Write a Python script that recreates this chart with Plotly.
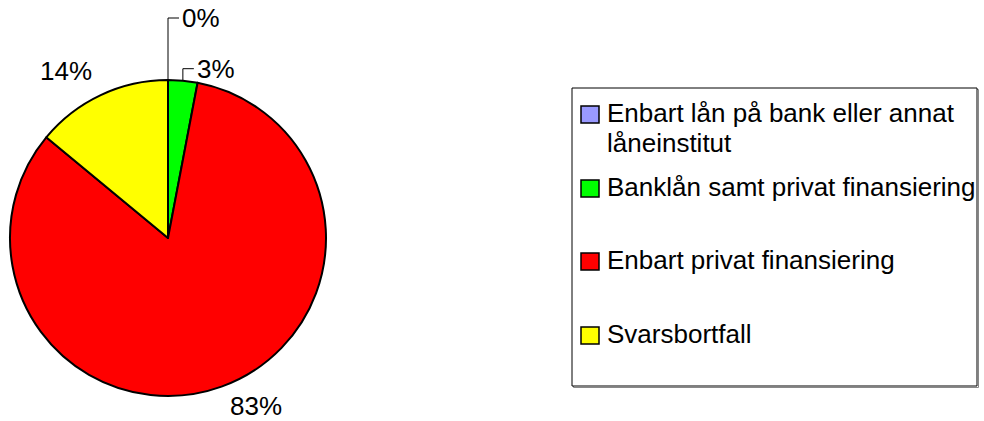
import math
import textwrap
import plotly.graph_objects as go

# ---- data ----
categories = [
    "Enbart lån på bank eller annat låneinstitut",
    "Banklån samt privat finansiering",
    "Enbart privat finansiering",
    "Svarsbortfall",
]
values = [0, 3, 83, 14]
value_labels = ["0%", "3%", "83%", "14%"]

# ---- style / layout ----
colors = ["#9999FF", "#00FF00", "#FF0000", "#FFFF00"]
W, H = 984, 421
CX, CY, R = 168, 238, 158           # pie centre / radius (px)
LABEL_GAP_ABOVE = 8
LABEL_GAP_BELOW = 2
FONT = "Liberation Sans, Arial, sans-serif"
FS = 26
LEADER_RISE = {0: 62, 1: 12}        # leader line rise for tiny slices (px)
LEGEND_BOX = (572, 88, 977, 386)
LEGEND_BASELINES = [122, 196, 269, 343]
LINE_GAP = 30
WRAP = 32
MARK_X0, MARK_X1, MARK_H = 581, 599, 17
TEXT_X = 605


def px(x):
    return x / W


def py(y):
    return 1 - y / H


fig = go.Figure()
fig.add_trace(go.Pie(
    labels=categories,
    values=values,
    sort=False,
    direction="clockwise",
    rotation=0,
    marker=dict(colors=colors, line=dict(color="black", width=2)),
    textinfo="none",
    hoverinfo="label+percent",
    showlegend=False,
    domain=dict(x=[px(CX - R), px(CX + R)], y=[py(CY + R), py(CY - R)]),
))

shapes = []
annotations = []

# ---- slice labels (positions derived from data angles) ----
total = sum(values)
cum = 0.0
for i, v in enumerate(values):
    mid = (cum + v / 2) / total * 2 * math.pi
    cum += v
    s, c = math.sin(mid), math.cos(mid)
    ex, ey = CX + R * s, CY - R * c
    if i in LEADER_RISE:
        top = ey - LEADER_RISE[i]
        shapes.append(dict(type="path", xref="paper", yref="paper",
                           path=f"M {px(ex)},{py(ey)} L {px(ex)},{py(top)} L {px(ex + 11)},{py(top)}",
                           line=dict(color="black", width=1)))
        annotations.append(dict(x=px(ex + 12), y=py(top), xref="paper", yref="paper",
                                text=value_labels[i], showarrow=False,
                                xanchor="left", yanchor="middle",
                                font=dict(family=FONT, size=FS, color="black")))
    else:
        gap = LABEL_GAP_ABOVE if c > 0 else LABEL_GAP_BELOW
        lx, ly = CX + (R + gap) * s, CY - (R + gap) * c
        annotations.append(dict(x=px(lx + (6 if s >= 0 else -3)), y=py(ly), xref="paper", yref="paper",
                                text=value_labels[i], showarrow=False,
                                xanchor="left" if s >= 0 else "right",
                                yanchor="top" if c < 0 else "bottom",
                                font=dict(family=FONT, size=FS, color="black")))

# ---- legend (drawn manually) ----
bx0, by0, bx1, by1 = LEGEND_BOX
shapes.append(dict(type="rect", xref="paper", yref="paper",
                   x0=px(bx0 + 1.5), y0=py(by1 + 1.5), x1=px(bx1 + 1.5), y1=py(by0 + 1.5),
                   line=dict(color="#888888", width=1), fillcolor="rgba(0,0,0,0)", layer="below"))
shapes.append(dict(type="rect", xref="paper", yref="paper",
                   x0=px(bx0), y0=py(by1), x1=px(bx1), y1=py(by0),
                   line=dict(color="black", width=1), fillcolor="white"))
for i, cat in enumerate(categories):
    base = LEGEND_BASELINES[i]
    shapes.append(dict(type="rect", xref="paper", yref="paper",
                       x0=px(MARK_X0), x1=px(MARK_X1), y0=py(base + 1), y1=py(base + 1 - MARK_H),
                       line=dict(color="black", width=1.5), fillcolor=colors[i]))
    for j, line in enumerate(textwrap.wrap(cat, WRAP)):
        annotations.append(dict(x=px(TEXT_X), y=py(base + j * LINE_GAP - 9),
                                xref="paper", yref="paper", text=line, showarrow=False,
                                xanchor="left", yanchor="middle",
                                font=dict(family=FONT, size=FS, color="black")))

fig.update_layout(
    width=W, height=H,
    margin=dict(l=0, r=0, t=0, b=0),
    paper_bgcolor="white", plot_bgcolor="white",
    shapes=shapes, annotations=annotations,
    showlegend=False,
)
fig.write_html("out.html",
               config={"displayModeBar": False},
               post_script="document.body.style.margin='0';document.body.style.overflow='hidden';")
